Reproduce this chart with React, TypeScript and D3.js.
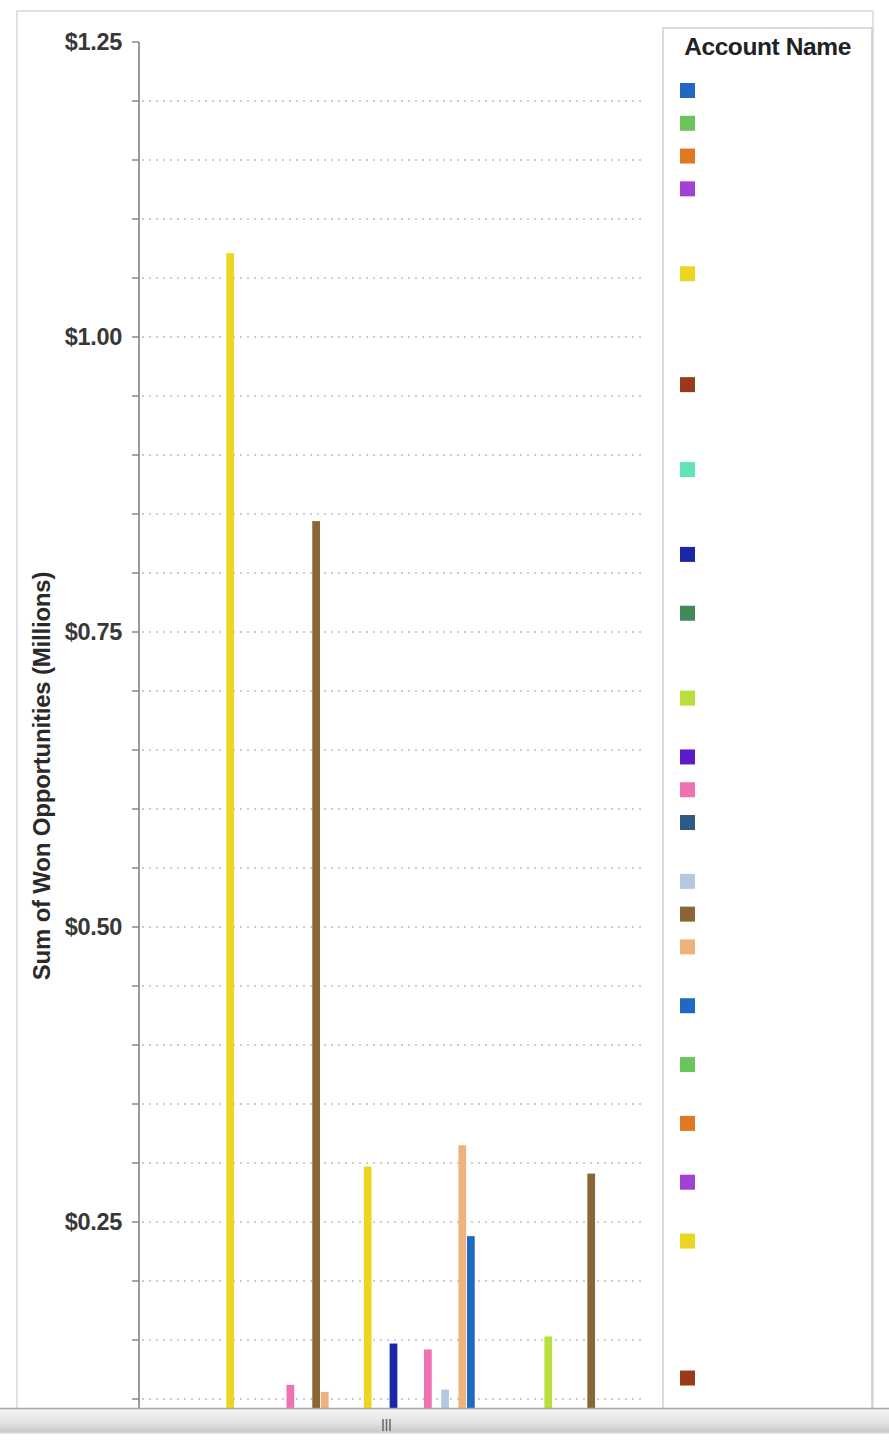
import React from "react";
import * as d3 from "d3";

// One category, one bar per account (most accounts have no won value).
const categories = ["All Opportunities"];

// Sum of won opportunities per account, in millions of dollars (47 accounts).
const accountValues = [
  0, 0, 0, 0, 1.071, 0, 0, 0, 0, 0,
  0, 0.112, 0, 0, 0.844, 0.106, 0, 0, 0, 0,
  0.297, 0, 0, 0.147, 0, 0, 0, 0.142, 0, 0.108,
  0, 0.315, 0.238, 0, 0, 0, 0, 0, 0, 0,
  0, 0.153, 0, 0, 0, 0, 0.291,
];

// Colour cycle used for the accounts.
const palette = [
  "#2069c2", "#6cc45c", "#e07a22", "#a142d2",
  "#ecd624", "#9a3a1a", "#62e2bb", "#1a28a6",
  "#3f8a56", "#b9df3e", "#5a1dc6", "#f071b2",
  "#2e5b86", "#b2c9e1", "#8a6535", "#f0b27c",
];

// Number of text lines each visible legend entry wraps onto.
const legendLines = [1, 1, 1, 3, 4, 3, 3, 2, 3, 2, 1, 1, 2, 1, 1, 2, 2, 2, 2, 2, 5, 2];

const yTicks = [1.25, 1.2, 1.15, 1.1, 1.05, 1.0, 0.95, 0.9, 0.85, 0.8, 0.75, 0.7, 0.65, 0.6, 0.55, 0.5, 0.45, 0.4, 0.35, 0.3, 0.25, 0.2, 0.15, 0.1];
const yLabels = [1.25, 1.0, 0.75, 0.5, 0.25];

const W = 889;
const H = 1440;
const FONT = "'Liberation Sans', Arial, Helvetica, sans-serif";

export default function App() {
  const plotLeft = 139;
  const plotRight = 646;
  const clipBottom = 1408;

  const y = d3.scaleLinear().domain([0, 1.25]).range([1517, 42]);
  const x0 = d3
    .scaleBand<string>()
    .domain(categories)
    .range([plotLeft + 2, plotRight])
    .paddingOuter(0.125)
    .paddingInner(0);
  const x1 = d3
    .scaleBand<number>()
    .domain(d3.range(accountValues.length))
    .range([0, x0.bandwidth()])
    .paddingInner(0.1)
    .paddingOuter(0.05);

  const money = d3.format("$.2f");

  // legend layout
  const legX = 663;
  const legTop = 28;
  const legRight = 872;
  const lineH = 26.05;
  const itemGap = 6.73;
  const firstCenter = 90.5;
  const legendCenters: number[] = [];
  let cy = firstCenter;
  legendLines.forEach((n) => {
    legendCenters.push(cy);
    cy += itemGap + lineH * n;
  });

  return (
    <svg
      width={W}
      height={H}
      style={{ position: "absolute", left: 0, top: 0, background: "#fff" }}
      fontFamily={FONT}
    >
      <defs>
        <clipPath id="plotClip">
          <rect x={0} y={0} width={W} height={clipBottom} />
        </clipPath>
        <linearGradient id="scrollGrad" x1="0" y1="0" x2="0" y2="1">
          <stop offset="0" stopColor="#f6f6f6" />
          <stop offset="0.55" stopColor="#e4e4e4" />
          <stop offset="1" stopColor="#c9c9c9" />
        </linearGradient>
      </defs>

      {/* outer frame */}
      <rect x={17} y={11} width={856} height={1420} fill="#fff" stroke="#d9d9d9" strokeWidth={1.5} />

      <g clipPath="url(#plotClip)">
        {/* grid lines */}
        {yTicks
          .filter((t) => t < 1.25)
          .map((t) => (
            <line
              key={`g${t}`}
              x1={plotLeft + 3}
              x2={plotRight - 1}
              y1={y(t)}
              y2={y(t)}
              stroke="#bdbdbd"
              strokeWidth={1.5}
              strokeDasharray="2,5"
            />
          ))}

        {/* bars */}
        {categories.map((c) => (
          <g key={c} transform={`translate(${x0(c)},0)`}>
            {accountValues.map((v, i) =>
              v > 0 ? (
                <rect
                  key={i}
                  x={x1(i)}
                  y={y(v)}
                  width={x1.bandwidth()}
                  height={y(0) - y(v)}
                  fill={palette[i % palette.length]}
                />
              ) : null
            )}
          </g>
        ))}

        {/* y axis */}
        <line x1={plotLeft} x2={plotLeft} y1={y(1.25)} y2={clipBottom} stroke="#9a9a9a" strokeWidth={2} />
        {yTicks.map((t) => (
          <line key={`t${t}`} x1={plotLeft - 7} x2={plotLeft} y1={y(t)} y2={y(t)} stroke="#8a8a8a" strokeWidth={1.5} />
        ))}
        {yLabels.map((t) => (
          <text
            key={`l${t}`}
            x={122}
            y={y(t)}
            dy="0.36em"
            textAnchor="end"
            fontSize={23.5}
            fontWeight="bold"
            fill="#383838"
            letterSpacing={-0.3}
          >
            {money(t)}
          </text>
        ))}

        {/* legend */}
        <rect x={legX} y={legTop} width={legRight - legX} height={1500} fill="#fff" stroke="#cfcfcf" strokeWidth={1.5} />
        <text
          x={(legX + legRight) / 2}
          y={55}
          textAnchor="middle"
          fontSize={24.5}
          fontWeight="bold"
          fill="#222"
          letterSpacing={-0.4}
        >
          Account Name
        </text>
        {legendCenters.map((c, i) => (
          <rect key={`lg${i}`} x={680} y={c - 7.5} width={15} height={15} fill={palette[i % palette.length]} />
        ))}
      </g>

      {/* y axis title */}
      <text
        transform={`translate(50,${776}) rotate(-90)`}
        textAnchor="middle"
        fontSize={24}
        fontWeight="bold"
        fill="#2a2a2a"
        letterSpacing={-0.2}
      >
        Sum of Won Opportunities (Millions)
      </text>

      {/* horizontal scroll bar */}
      <rect x={0} y={clipBottom} width={W} height={25} fill="url(#scrollGrad)" />
      <line x1={0} x2={W} y1={clipBottom + 0.5} y2={clipBottom + 0.5} stroke="#a8a8a8" strokeWidth={1.5} />
      <line x1={0} x2={W} y1={clipBottom + 25} y2={clipBottom + 25} stroke="#d6d6d6" strokeWidth={1} />
      {[383, 386.5, 390].map((gx) => (
        <line key={gx} x1={gx} x2={gx} y1={1419} y2={1431} stroke="#666" strokeWidth={1.5} />
      ))}
    </svg>
  );
}
